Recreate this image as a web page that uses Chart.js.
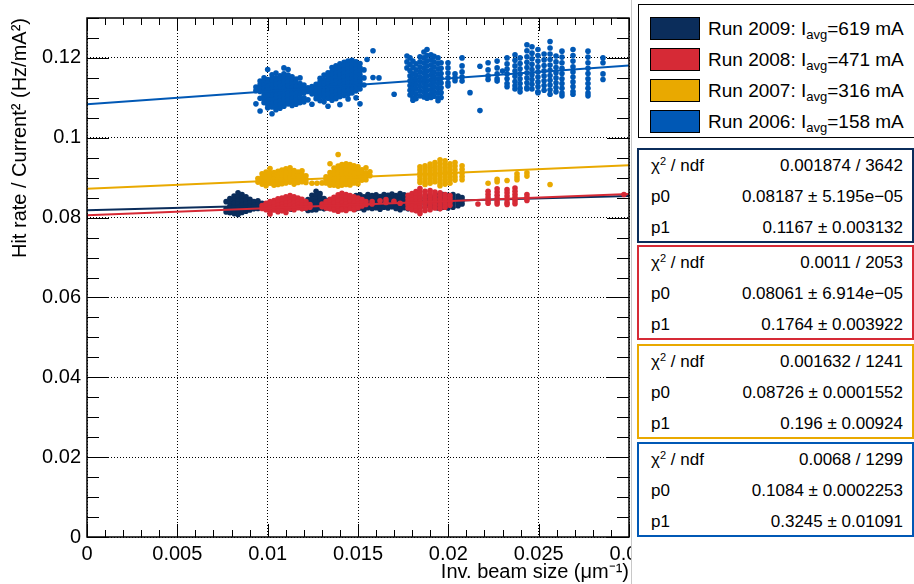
<!DOCTYPE html>
<html>
<head>
<meta charset="utf-8">
<script src="https://cdn.jsdelivr.net/npm/chart.js@4.4.0/dist/chart.umd.min.js"></script>
<style>
  html, body { margin:0; padding:0; background:#fff; width:914px; height:584px; overflow:hidden; }
  body { position:relative; font-family:'Liberation Sans', Arial, Helvetica, sans-serif; color:#000; }
  #wrap { position:absolute; left:0; top:0; width:914px; height:584px; }
  .padline { position:absolute; left:631px; top:0; width:283px; height:584px; box-sizing:border-box; border-left:1px solid #c8c8c8; background:#fff; }
  #legend { position:absolute; left:638px; top:4px; width:290px; height:134px; box-sizing:border-box; border:1px solid #000; background:#fff; }
  .lrow { position:absolute; left:0; height:24px; width:100%; }
  .sw { position:absolute; left:11px; top:0; width:50px; height:23px; box-sizing:border-box; border:1px solid #000; }
  .lt { position:absolute; left:69px; top:0; line-height:23px; font-size:19px; white-space:nowrap; }
  .lt sub { font-size:13px; vertical-align:-4px; line-height:0; }
  .stat { position:absolute; left:637px; width:277px; height:95px; box-sizing:border-box; border:2px solid; background:#fff; font-size:17px; }
  .srow { position:absolute; left:12px; right:9px; height:20px; line-height:20px; white-space:nowrap; }
  .srow .k { position:absolute; left:0; }
  .srow .v { position:absolute; right:0; }
  .srow sup { font-size:11px; vertical-align:6px; line-height:0; }
</style>
</head>
<body>
<div id="wrap"><canvas id="c" width="914" height="584"></canvas></div>
<div class="padline"></div>
<div id="legend"></div>
<div id="stats"></div>
<script>
// ---------------- data ----------------
const seriesNames = ['Run 2009', 'Run 2008', 'Run 2007', 'Run 2006'];
const seriesCurrents = ['619', '471', '316', '158'];
const seriesColors = ['#0b2d5b', '#d62a36', '#e9a900', '#0058b5'];

// each column: [x, y1, y2, ...]  (x = inverse beam size, y = hit rate / current^2)
const run2009Cols = [
  [.0077, .0840, .0822, .0814],
  [.00791, .0848, .0838, .0829, .0820, .0812],
  [.00814, .0854, .0845, .0836, .0827, .0818, .0810],
  [.00836, .0862, .0852, .0843, .0834, .0825, .0816, .0808],
  [.00858, .0858, .0849, .0840, .0831, .0822, .0813],
  [.0088, .0852, .0843, .0834, .0825, .0816],
  [.00902, .0846, .0837, .0828, .0819],
  [.00924, .0840, .0831, .0822],
  [.00946, .0842, .0832, .0823],
  [.00969, .0836, .0827],
  [.0105, .0831, .0822],
  [.0113, .0829, .0821],
  [.0120, .0832, .0824],
  [.01223, .0845, .0836, .0827, .0818],
  [.01245, .0856, .0846, .0837, .0828, .0819],
  [.01268, .0866, .0856, .0847, .0838, .0829, .0820],
  [.0129, .0860, .0851, .0842, .0833, .0824],
  [.01312, .0848, .0839, .0830, .0822],
  [.01334, .0842, .0833, .0825],
  [.01467, .0848, .0840, .0832, .0824],
  [.01489, .0855, .0846, .0838, .0830, .0822],
  [.01511, .0857, .0848, .0840, .0832, .0824],
  [.01533, .0852, .0844, .0836, .0828, .0820],
  [.01555, .0858, .0849, .0841, .0833, .0825],
  [.01578, .0855, .0847, .0839, .0831, .0823],
  [.016, .0857, .0849, .0841, .0833, .0825],
  [.01622, .0853, .0845, .0837, .0829, .0821],
  [.01644, .0858, .0850, .0842, .0834, .0826],
  [.01666, .0856, .0848, .0840, .0832, .0824],
  [.01688, .0859, .0851, .0843, .0835, .0827],
  [.0171, .0855, .0847, .0839, .0831, .0823],
  [.01733, .0860, .0852, .0844, .0836, .0828, .0820],
  [.01755, .0857, .0849, .0841, .0833, .0825],
  [.01777, .0854, .0846, .0838, .0830, .0822],
  [.0181, .0852, .0844, .0836, .0828],
  [.01843, .0850, .0842, .0834, .0826],
  [.01876, .0854, .0846, .0838, .0830],
  [.0191, .0851, .0843, .0835, .0827],
  [.01943, .0856, .0848, .0840, .0832, .0824],
  [.0197, .0858, .0850, .0842, .0834, .0826],
  [.01998, .0856, .0848, .0840, .0832, .0824],
  [.02026, .0858, .0850, .0842, .0834, .0826],
  [.02054, .0854, .0846, .0838, .0830],
  [.02076, .0850, .0842, .0834]
];
const run2008Cols = [
  [.00969, .0830, .0823],
  [.00991, .0836, .0828, .0820],
  [.01013, .0840, .0832, .0824, .0816, .0809],
  [.01035, .0843, .0835, .0827, .0819],
  [.01057, .0847, .0839, .0831, .0823, .0815],
  [.01079, .0849, .0841, .0833, .0825, .0817],
  [.01101, .0852, .0844, .0836, .0828, .0820, .0813],
  [.01124, .0855, .0846, .0838, .0830, .0822],
  [.01146, .0852, .0844, .0836, .0828, .0820],
  [.01168, .0849, .0841, .0833, .0825],
  [.0119, .0846, .0838, .0830, .0822],
  [.01212, .0840, .0832, .0824],
  [.01234, .0833, .0826],
  [.01301, .0834, .0827],
  [.01323, .0840, .0832, .0824],
  [.01345, .0846, .0838, .0830, .0822],
  [.01367, .0851, .0843, .0835, .0827, .0819],
  [.0139, .0857, .0848, .0840, .0832, .0824, .0816],
  [.01411, .0861, .0852, .0844, .0836, .0828, .0820],
  [.01434, .0858, .0850, .0842, .0834, .0826, .0818],
  [.01456, .0855, .0847, .0839, .0831, .0823],
  [.01478, .0852, .0844, .0836, .0828, .0820],
  [.015, .0849, .0841, .0833, .0825],
  [.01522, .0845, .0837, .0829],
  [.01544, .0840, .0833],
  [.01578, .0840, .0834],
  [.01622, .0842],
  [.01655, .0838, .0845],
  [.01699, .0841],
  [.01733, .0836],
  [.01777, .0856, .0848, .0840, .0832, .0824],
  [.01799, .0860, .0852, .0844, .0836, .0828, .0820],
  [.01821, .0865, .0857, .0849, .0841, .0833, .0825, .0817],
  [.01843, .0873, .0864, .0856, .0848, .0840, .0832, .0824, .0816, .0810],
  [.01871, .0866, .0858, .0850, .0842, .0834, .0826, .0818],
  [.01899, .0868, .0860, .0852, .0844, .0836, .0828, .0820],
  [.01926, .0864, .0856, .0848, .0840, .0832, .0824],
  [.01954, .0862, .0854, .0846, .0838, .0830, .0822],
  [.01982, .0858, .0850, .0842, .0834, .0826],
  [.02009, .0855, .0847, .0839, .0831],
  [.02164, .0834],
  [.0222, .0866, .0858, .0850, .0842, .0836],
  [.0227, .0872, .0864, .0856, .0848, .0840, .0834],
  [.02325, .0870, .0862, .0854, .0846, .0838, .0833],
  [.02369, .0874, .0866, .0858, .0850, .0842, .0835],
  [.02435, .0858, .0850, .0843],
  [.02972, .0858]
];
const run2007Cols = [
  [.00946, .0898, .0889],
  [.00969, .0910, .0901, .0892, .0884],
  [.00991, .0914, .0905, .0896, .0887, .0880],
  [.01013, .0923, .0912, .0903, .0894, .0886],
  [.01035, .0913, .0905, .0897, .0889, .0881],
  [.01057, .0916, .0907, .0899, .0891, .0883],
  [.01079, .0919, .0910, .0901, .0893, .0885],
  [.01101, .0922, .0913, .0904, .0896, .0887],
  [.01124, .0925, .0915, .0906, .0897, .0889],
  [.01146, .0918, .0909, .0900, .0891, .0884],
  [.01168, .0914, .0905, .0896, .0888],
  [.0119, .0917, .0907, .0898, .0890],
  [.01212, .0905, .0896, .0888],
  [.01245, .0886],
  [.01273, .0886],
  [.01301, .0887],
  [.01323, .0902, .0894, .0887],
  [.01345, .0935, .0913, .0904, .0896, .0888, .0881],
  [.01367, .0924, .0915, .0906, .0897, .0889, .0881],
  [.0139, .0958, .0929, .0920, .0911, .0902, .0894, .0886, .0879],
  [.01411, .0933, .0924, .0915, .0906, .0897, .0889, .0881],
  [.01434, .0935, .0926, .0917, .0908, .0899, .0891, .0883],
  [.01456, .0933, .0924, .0915, .0906, .0897, .0889, .0882],
  [.01478, .0930, .0921, .0912, .0903, .0895, .0887],
  [.015, .0927, .0918, .0909, .0900, .0892, .0885],
  [.01522, .0920, .0911, .0902, .0894],
  [.01544, .0925, .0912, .0903, .0895],
  [.01566, .0915, .0905],
  [.01843, .0927, .0919, .0911, .0903, .0895, .0888],
  [.01871, .0930, .0922, .0914, .0906, .0898, .0890, .0883],
  [.01899, .0934, .0926, .0918, .0910, .0902, .0894, .0886],
  [.01926, .0938, .0930, .0922, .0914, .0906, .0898, .0890],
  [.01954, .0945, .0936, .0927, .0919, .0911, .0903, .0895, .0887, .0880],
  [.01982, .0942, .0933, .0924, .0916, .0908, .0900, .0892, .0884],
  [.02009, .0935, .0927, .0919, .0911, .0903, .0895, .0886],
  [.02037, .0938, .0929, .0920, .0911, .0902, .0894],
  [.02076, .0930, .0921, .0912, .0903, .0895],
  [.0222, .0886],
  [.0227, .0896, .0890],
  [.02325, .0893],
  [.0238, .0910, .0902, .0895],
  [.02435, .0912, .0904],
  [.02563, .0883]
];
const run2006Cols = [
  [.00935, .1127, .1118, .1085],
  [.00958, .1142, .1133, .1124, .1116, .1099, .1067],
  [.0098, .1150, .1141, .1132, .1124, .1115, .1106, .1097, .1088],
  [.0100, .1171, .1146, .1137, .1128, .1120, .1111, .1102, .1093, .1084, .1075],
  [.01024, .1158, .1149, .1140, .1131, .1122, .1113, .1104, .1095, .1086, .1077, .1060],
  [.01046, .1162, .1150, .1141, .1133, .1124, .1115, .1106, .1097, .1088, .1079, .1070],
  [.01068, .1155, .1146, .1137, .1128, .1119, .1110, .1101, .1092, .1083, .1074],
  [.0109, .1175, .1160, .1151, .1142, .1133, .1124, .1115, .1106, .1097, .1088, .1079],
  [.01113, .1171, .1157, .1148, .1139, .1130, .1121, .1112, .1103, .1094, .1085],
  [.01135, .1153, .1144, .1135, .1126, .1117, .1108, .1099, .1090, .1081],
  [.01157, .1147, .1138, .1129, .1120, .1111, .1102, .1093, .1084],
  [.01179, .1150, .1136, .1127, .1118, .1109, .1098, .1088],
  [.01201, .1132, .1122, .1113, .1100, .1090],
  [.01223, .1125, .1116, .1095],
  [.01245, .1128, .1119, .1110, .1084],
  [.01268, .1134, .1125, .1116, .1107, .1098],
  [.0129, .1149, .1140, .1131, .1122, .1113, .1104, .1093],
  [.01312, .1157, .1146, .1137, .1128, .1119, .1110, .1101, .1090],
  [.01334, .1163, .1153, .1144, .1135, .1126, .1117, .1108, .1099, .1079],
  [.01356, .1176, .1166, .1157, .1148, .1139, .1130, .1121, .1112, .1103, .1094],
  [.01378, .1180, .1170, .1161, .1152, .1143, .1134, .1125, .1116, .1107, .1098],
  [.0140, .1185, .1175, .1166, .1157, .1148, .1139, .1130, .1121, .1112, .1103, .1083],
  [.01423, .1189, .1179, .1170, .1161, .1152, .1143, .1134, .1125, .1116, .1106],
  [.01445, .1192, .1182, .1173, .1164, .1155, .1146, .1137, .1128, .1119, .1109, .1097],
  [.01467, .1194, .1184, .1175, .1166, .1157, .1148, .1139, .1130, .1121, .1112],
  [.01489, .1190, .1180, .1171, .1162, .1153, .1144, .1135, .1126, .1117, .1100],
  [.01511, .1186, .1176, .1167, .1158, .1149, .1140, .1131, .1122, .1085],
  [.01533, .1170, .1150, .1132],
  [.0155, .1196],
  [.01583, .1218, .1151],
  [.01616, .1150],
  [.0170, .1109],
  [.01771, .1205, .1190, .1175],
  [.01788, .1200, .1184, .1168, .1155, .1143, .1131, .1119, .1107],
  [.01804, .1192, .1176, .1160, .1148, .1136, .1124, .1112, .1100, .1094],
  [.01821, .1185, .1170, .1158, .1146, .1134, .1122, .1110, .1098],
  [.01843, .1203, .1190, .1177, .1165, .1153, .1141, .1129, .1117, .1105],
  [.01865, .1215, .1200, .1187, .1174, .1162, .1150, .1138, .1126, .1114, .1102],
  [.01882, .1221, .1206, .1193, .1180, .1167, .1155, .1143, .1131, .1119, .1107, .1099],
  [.01904, .1208, .1195, .1182, .1169, .1157, .1145, .1133, .1121, .1109, .1101],
  [.01921, .1204, .1190, .1177, .1164, .1152, .1140, .1128, .1116, .1104],
  [.01943, .1200, .1186, .1173, .1160, .1148, .1136, .1124, .1112, .1100, .1093],
  [.0196, .1188, .1174, .1161, .1149, .1137, .1125, .1113, .1101],
  [.01998, .1188, .1175, .1162, .1150, .1138, .1130],
  [.02037, .1160, .1150, .1143],
  [.02076, .1200, .1180, .1165, .1152, .1142],
  [.0212, .1113],
  [.02175, .1179, .1068],
  [.0222, .1188, .1170, .1155, .1146],
  [.0227, .1192, .1175, .1160, .1148, .1142],
  [.023, .1167],
  [.02325, .1200, .1185, .1172, .1160, .1148, .1136, .1128],
  [.02369, .1208, .1194, .1180, .1167, .1154, .1141, .1130, .1122],
  [.02397, .1200, .1186, .1173, .1160, .1148, .1136, .1124, .1115],
  [.02435, .1233, .1218, .1203, .1189, .1176, .1163, .1150, .1138, .1126, .1122],
  [.02463, .1228, .1212, .1198, .1184, .1171, .1158, .1146, .1134, .1122],
  [.02496, .1221, .1206, .1192, .1178, .1165, .1152, .1140, .1128, .1115, .1113],
  [.0253, .1210, .1195, .1181, .1168, .1155, .1143, .1131, .1119],
  [.02563, .1241, .1225, .1210, .1196, .1182, .1169, .1156, .1144, .1132, .1120, .1109],
  [.02596, .1205, .1190, .1176, .1163, .1150, .1138, .1126, .1115],
  [.02629, .1217, .1202, .1188, .1174, .1161, .1148, .1136, .1124, .1112, .1105],
  [.0269, .1221, .1206, .1192, .1178, .1165, .1152, .1140, .1128, .1116, .1109],
  [.02773, .1217, .1202, .1188, .1174, .1161, .1148, .1136, .1124, .1112, .1105],
  [.02856, .1200, .1188, .1160, .1146]
];

// linear fit lines (value at x = 0 and at x = 0.03)
const fitX = [0, 0.03];
const fitStartY = [0.08187, 0.08061, 0.08726, 0.1084];
const fitEndY = [0.0854, 0.0859, 0.0931, 0.1181];

// fit statistics boxes
const statChi2 = ['0.001874 / 3642', '0.0011 / 2053', '0.001632 / 1241', '0.0068 / 1299'];
const statP0 = ['0.08187 \u00b1 5.195e\u221205', '0.08061 \u00b1 6.914e\u221205', '0.08726 \u00b1 0.0001552', '0.1084 \u00b1 0.0002253'];
const statP1 = ['0.1167 \u00b1 0.003132', '0.1764 \u00b1 0.003922', '0.196 \u00b1 0.00924', '0.3245 \u00b1 0.01091'];

// axis ticks
const xTickValues = [0, 0.005, 0.01, 0.015, 0.02, 0.025, 0.03];
const yTickValues = [0, 0.02, 0.04, 0.06, 0.08, 0.1, 0.12];

// ---------------- build ----------------
const allCols = [run2009Cols, run2008Cols, run2007Cols, run2006Cols];
const toPoints = cols => cols.flatMap(c => c.slice(1).map(v => ({x: c[0], y: v})));

const datasets = [];
allCols.forEach((cols, i) => {
  datasets.push({
    label: seriesNames[i] + ' points',
    data: toPoints(cols),
    backgroundColor: seriesColors[i],
    borderWidth: 0,
    pointRadius: 2.8,
    pointStyle: 'circle',
    order: 8 - 2 * i
  });
  datasets.push({
    label: seriesNames[i] + ' fit',
    data: fitX.map((x, k) => ({x, y: k === 0 ? fitStartY[i] : fitEndY[i]})),
    showLine: true,
    borderColor: seriesColors[i],
    borderWidth: 2,
    pointRadius: 0,
    order: 7 - 2 * i
  });
});

const fmt = v => {
  const r = parseFloat(Number(v).toFixed(4));
  return r === 0 ? '0' : String(r);
};

const frameTicks = {
  id: 'frameTicks',
  afterDraw(chart) {
    const {ctx, chartArea: a, scales: {x, y}} = chart;
    ctx.save();
    ctx.strokeStyle = '#000';
    ctx.lineWidth = 1;
    ctx.beginPath();
    const xMinorStep = (xTickValues[1] - xTickValues[0]) / 5;
    const nx = Math.round((x.max - x.min) / xMinorStep);
    for (let i = 0; i <= nx; i++) {
      const px = Math.round(x.getPixelForValue(x.min + i * xMinorStep)) + 0.5;
      const len = i % 5 === 0 ? 13 : 7;
      ctx.moveTo(px, a.bottom); ctx.lineTo(px, a.bottom - len);
      ctx.moveTo(px, a.top); ctx.lineTo(px, a.top + len);
    }
    const yMinorStep = (yTickValues[1] - yTickValues[0]) / 4;
    const ny = Math.round((y.max - y.min) / yMinorStep);
    for (let i = 0; i <= ny; i++) {
      const py = Math.round(y.getPixelForValue(y.min + i * yMinorStep)) + 0.5;
      const len = i % 4 === 0 ? 22 : 12;
      ctx.moveTo(a.left, py); ctx.lineTo(a.left + len, py);
      ctx.moveTo(a.right, py); ctx.lineTo(a.right - len, py);
    }
    ctx.stroke();
    ctx.lineWidth = 1.5;
    ctx.strokeRect(a.left, a.top, a.right - a.left, a.bottom - a.top);
    ctx.restore();
  }
};

Chart.defaults.font.family = "'Liberation Sans', Arial, Helvetica, sans-serif";
Chart.defaults.color = '#000';

new Chart(document.getElementById('c'), {
  type: 'scatter',
  data: { datasets },
  options: {
    responsive: false,
    animation: false,
    events: [],
    layout: { padding: { left: 0, right: 285, top: 13, bottom: 0 } },
    plugins: { legend: { display: false }, tooltip: { enabled: false } },
    scales: {
      x: {
        type: 'linear',
        min: xTickValues[0], max: xTickValues[xTickValues.length - 1],
        afterFit: s => { s.height = 47; },
        afterBuildTicks: s => { s.ticks = xTickValues.map(v => ({value: v})); },
        ticks: { autoSkip: false, maxRotation: 0, padding: 5, font: { size: 20 }, callback: fmt },
        grid: { color: '#000', lineWidth: 1, drawTicks: false },
        border: { display: false, dash: [1, 2] },
        title: { display: true, text: 'Inv. beam size (\u03bcm\u207b\u00b9)', align: 'end', font: { size: 20 }, padding: { top: 0, bottom: 0 } }
      },
      y: {
        type: 'linear',
        min: 0, max: 0.13,
        afterFit: s => { s.width = 87; },
        afterBuildTicks: s => { s.ticks = yTickValues.map(v => ({value: v})); },
        ticks: { autoSkip: false, padding: 6, font: { size: 20 }, callback: fmt },
        grid: { color: '#000', lineWidth: 1, drawTicks: false },
        border: { display: false, dash: [1, 2] },
        title: { display: true, text: 'Hit rate / Current\u00b2 (Hz/mA\u00b2)', align: 'end', font: { size: 20 }, padding: { top: 8, bottom: 0 } }
      }
    }
  },
  plugins: [frameTicks]
});

// ---------------- legend & stats (HTML text) ----------------
const legend = document.getElementById('legend');
const rowTops = [12, 43, 74, 105];
seriesNames.forEach((n, i) => {
  const r = document.createElement('div');
  r.className = 'lrow';
  r.style.top = rowTops[i] + 'px';
  r.innerHTML = '<div class="sw" style="background:' + seriesColors[i] + '"></div>' +
    '<div class="lt">' + n + ': I<sub>avg</sub>=' + seriesCurrents[i] + ' mA</div>';
  legend.appendChild(r);
});
const stats = document.getElementById('stats');
const boxTops = [148, 245, 344, 442];
statChi2.forEach((c, i) => {
  const b = document.createElement('div');
  b.className = 'stat';
  b.style.top = boxTops[i] + 'px';
  b.style.borderColor = seriesColors[i];
  const rows = [['\u03c7<sup>2</sup> / ndf', c], ['p0', statP0[i]], ['p1', statP1[i]]];
  b.innerHTML = rows.map((r, k) =>
    '<div class="srow" style="top:' + (6 + k * 31) + 'px"><span class="k">' + r[0] + '</span><span class="v">' + r[1] + '</span></div>').join('');
  stats.appendChild(b);
});
</script>
</body>
</html>
